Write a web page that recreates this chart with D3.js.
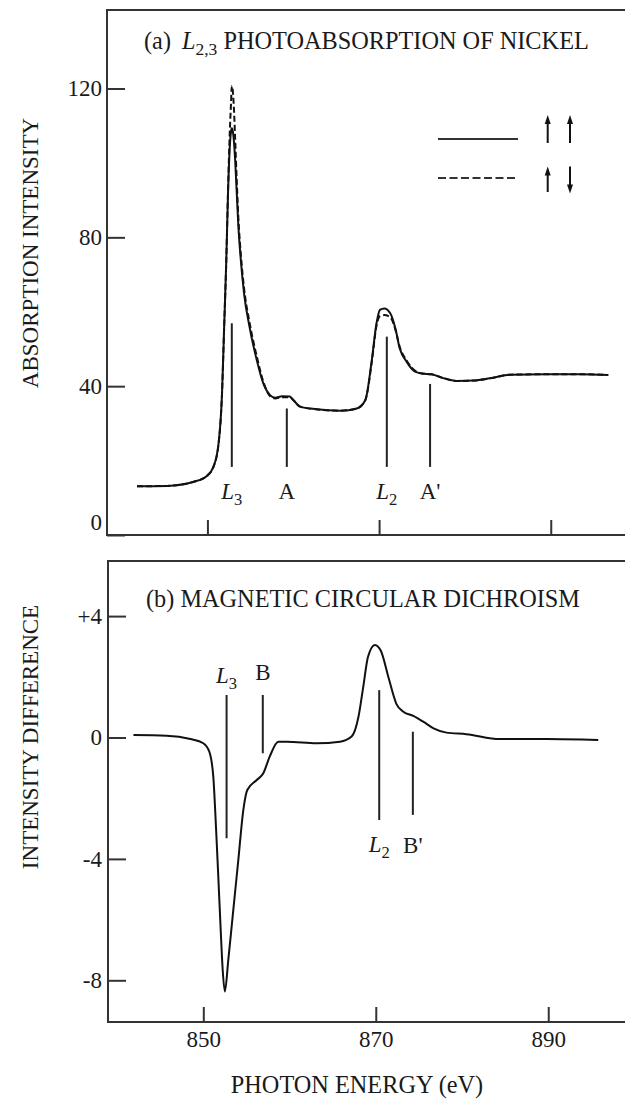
<!DOCTYPE html>
<html>
<head>
<meta charset="utf-8">
<script src="https://cdn.jsdelivr.net/npm/d3@7"></script>
<style>
  body { margin: 0; background: #fff; }
  svg text { font-family: "Liberation Serif", "Times New Roman", serif; fill: #1a1a1a; }
</style>
</head>
<body>
<svg id="chart" width="625" height="1101"></svg>
<script>
// (a) L2,3 photoabsorption of nickel - photon energy (eV) and intensity
const absEnergy = [841.8, 845.3, 848.4, 849.9, 850.7, 851.3, 851.7, 851.95, 852.2, 852.4,
  852.6, 852.75, 852.84, 852.95, 853.1, 853.23, 853.42, 853.61, 853.89, 854.27,
  854.9, 855.75, 856.5, 857.3, 857.9, 858.7, 859.6, 860.0, 860.8, 862.7,
  865.5, 867.4, 868.4, 869.15, 869.7, 870.1, 870.6, 871.3, 871.9, 872.4,
  873.2, 874.2, 875.0, 876.1, 877.3, 879.05, 881.0, 882.9, 885.3, 889.5,
  893.4, 896.7];
// parallel spins (solid line)
const absParallel = [13.1, 13.2, 14.3, 15.8, 18.3, 24.6, 38, 56, 73.9, 91.8,
  104, 108.5, 109.3, 108.6, 105.5, 100.8, 91.8, 82.8, 73.9, 64.9,
  56, 47, 40.8, 37.6, 36.9, 37.3, 37.2, 36.3, 34.5, 33.8,
  33.4, 34.0, 36.3, 47, 56.9, 60.5, 60.9, 59.6, 55.5, 50.2,
  46.6, 43.9, 43.4, 43.2, 42.3, 41.4, 41.5, 42.1, 43.1, 43.2,
  43.2, 43.0];
// antiparallel spins (dashed line)
const absAntiparallel = [13.1, 13.2, 14.3, 15.8, 18.3, 24.6, 38, 56, 73.9, 92.5,
  108, 116, 120.7, 119.5, 114, 106.5, 95, 85, 75.5, 66.3,
  57.2, 48, 41.3, 37.3, 36.7, 37.0, 37.0, 36.3, 34.5, 33.8,
  33.4, 34.0, 36.3, 46.5, 56.3, 58.8, 59.1, 58.5, 55.2, 50.6,
  46.9, 44.1, 43.4, 43.2, 42.3, 41.4, 41.5, 42.1, 43.1, 43.2,
  43.2, 43.0];

// (b) magnetic circular dichroism
const mcdEnergy = [841.9, 845.75, 848.5, 850.0, 850.7, 851.16, 851.47, 851.74, 852.0, 852.25,
  852.5, 852.9, 853.48, 854.06, 854.64, 855.1, 856.2, 856.96, 857.7, 858.7,
  859.7, 863.15, 865.85, 867.2, 868.0, 868.55, 869.1, 869.9, 870.6, 871.5,
  872.4, 873.2, 874.35, 875.5, 876.7, 878.2, 880.5, 884.4, 889.8, 895.8];
const mcdValue = [0.08, 0.06, -0.05, -0.19, -0.47, -1.29, -2.94, -4.59, -6.23, -7.66,
  -8.37, -7.33, -5.68, -4.04, -2.39, -1.73, -1.40, -1.18, -0.63, -0.14,
  -0.14, -0.19, -0.14, 0.03, 0.69, 1.67, 2.66, 3.05, 2.85, 1.95,
  1.1, 0.85, 0.71, 0.52, 0.30, 0.16, 0.11, -0.05, -0.05, -0.08];

const energyTicks = [850, 870, 890];
const absTicks = [0, 40, 80, 120];
const mcdTicks = [4, 0, -4, -8];
const mcdTickLabels = ["+4", "0", "-4", "-8"];

// feature markers: energy, line from..to (data units), label baseline value
const absMarkers = [
  {main: "L", sub: "3", e: 852.84, from: 18.3, to: 56.9, at: 9.6},
  {main: "A", sub: "", e: 859.25, from: 18.3, to: 34, at: 9.6},
  {main: "L", sub: "2", e: 870.9, from: 18.3, to: 53.3, at: 9.6},
  {main: "A'", sub: "", e: 875.94, from: 18.3, to: 40.6, at: 9.6}
];
const mcdMarkers = [
  {main: "L", sub: "3", e: 852.7, from: -3.32, to: 1.40, at: 1.80},
  {main: "B", sub: "", e: 856.9, from: -0.52, to: 1.40, at: 1.89},
  {main: "L", sub: "2", e: 870.4, from: -2.72, to: 1.56, at: -3.76},
  {main: "B'", sub: "", e: 874.3, from: -2.55, to: 0.19, at: -3.81}
];

const FS = 23;      // ticks, marker labels, y titles
const FS_T = 24.3;  // panel titles, x title
const INK = "#222";
const svg = d3.select("#chart");

// scales
const xA = d3.scaleLinear().domain([838.3, 898.65]).range([107, 625]);
const yA = d3.scaleLinear().domain([0, 141.1]).range([535, 10]);
const xB = d3.scaleLinear().domain([838.95, 898.9]).range([108, 625]);
const yB = d3.scaleLinear().domain([-9.374, 5.815]).range([1022, 561]);

function drawFrame(x, y) {
    const [x0, x1] = x.range();
    const [yb, yt] = y.range();
    svg.append("path")
        .attr("d", `M${x1},${yt}H${x0}V${yb}H${x1}`)
        .attr("fill", "none")
        .attr("stroke", "#333")
        .attr("stroke-width", 2);
}

function styleAxis(g) {
    g.attr("font-family", null).attr("font-size", FS);
    g.select(".domain").remove();
    g.selectAll(".tick line").attr("stroke", "#333").attr("stroke-width", 2);
    g.selectAll(".tick text").attr("fill", "#1a1a1a");
}

function addLabel(x, y, main, sub) {
    const t = svg.append("text")
        .attr("x", x).attr("y", y)
        .attr("font-size", FS)
        .attr("text-anchor", "middle");
    t.append("tspan").attr("font-style", main === "L" ? "italic" : null).text(main);
    if (sub) {
        t.append("tspan").attr("font-size", FS * 0.72).attr("dy", 6).text(sub);
    }
    return t;
}

// ---------- panel (a) ----------
drawFrame(xA, yA);

svg.append("g")
    .attr("transform", `translate(0,${yA.range()[0]})`)
    .call(d3.axisBottom(xA).tickValues(energyTicks).tickSize(-15).tickSizeOuter(0).tickFormat(""))
    .call(styleAxis);

svg.append("g")
    .attr("transform", `translate(${xA.range()[0]},0)`)
    .call(d3.axisLeft(yA).tickValues(absTicks).tickSize(-18).tickSizeOuter(0).tickPadding(5))
    .call(styleAxis)
    .call(g => g.selectAll(".tick").filter(d => d === 0).select("text").attr("y", -13));

const lineA = (vals) => d3.line()
    .x((d, i) => xA(absEnergy[i]))
    .y(d => yA(d))
    .curve(d3.curveMonotoneX)(vals);

svg.append("path")
    .attr("d", lineA(absAntiparallel))
    .attr("fill", "none")
    .attr("stroke", "#111")
    .attr("stroke-width", 2)
    .attr("stroke-dasharray", "6,3");

svg.append("path")
    .attr("d", lineA(absParallel))
    .attr("fill", "none")
    .attr("stroke", "#111")
    .attr("stroke-width", 2);

svg.append("g").selectAll("line")
    .data(absMarkers)
    .join("line")
    .attr("x1", d => xA(d.e)).attr("x2", d => xA(d.e))
    .attr("y1", d => yA(d.from)).attr("y2", d => yA(d.to))
    .attr("stroke", INK).attr("stroke-width", 2);

absMarkers.forEach(m => addLabel(xA(m.e), yA(m.at), m.main, m.sub));

// title (a)
const titleA = svg.append("text").attr("x", 144).attr("y", 49).attr("font-size", FS_T);
titleA.append("tspan").text("(a)");
titleA.append("tspan").attr("dx", 11).attr("font-style", "italic").text("L");
titleA.append("tspan").attr("font-size", FS_T * 0.72).attr("dy", 6).text("2,3");
titleA.append("tspan").attr("dy", -6).text(" PHOTOABSORPTION OF NICKEL");

// legend
const legend = svg.append("g");
legend.append("line").attr("x1", 438).attr("x2", 518).attr("y1", 139).attr("y2", 139)
    .attr("stroke", "#333").attr("stroke-width", 2);
legend.append("line").attr("x1", 438).attr("x2", 518).attr("y1", 178).attr("y2", 178)
    .attr("stroke", "#333").attr("stroke-width", 2).attr("stroke-dasharray", "8,3.5");

function arrow(x, yTail, yHead) {
    const dir = yHead < yTail ? 1 : -1;
    legend.append("line").attr("x1", x).attr("x2", x)
        .attr("y1", yTail).attr("y2", yHead + dir * 6)
        .attr("stroke", "#111").attr("stroke-width", 2);
    legend.append("path")
        .attr("d", `M${x},${yHead}L${x - 3},${yHead + dir * 9}L${x + 3},${yHead + dir * 9}Z`)
        .attr("fill", "#111");
}
arrow(547.7, 143, 115);
arrow(570, 143, 115);
arrow(547.7, 192, 166.5);
arrow(570, 166.5, 193.5);

svg.append("text")
    .attr("transform", "translate(37.5,253) rotate(-90)")
    .attr("text-anchor", "middle")
    .attr("font-size", FS)
    .text("ABSORPTION INTENSITY");

// ---------- panel (b) ----------
drawFrame(xB, yB);

svg.append("g")
    .attr("transform", `translate(0,${yB.range()[0]})`)
    .call(d3.axisBottom(xB).tickValues(energyTicks).tickSize(-15).tickSizeOuter(0).tickPadding(9))
    .call(styleAxis);

svg.append("g")
    .attr("transform", `translate(${xB.range()[0]},0)`)
    .call(d3.axisLeft(yB).tickValues(mcdTicks).tickSize(-18).tickSizeOuter(0).tickPadding(6)
        .tickFormat((d, i) => mcdTickLabels[i]))
    .call(styleAxis);

const lineB = d3.line()
    .x((d, i) => xB(mcdEnergy[i]))
    .y(d => yB(d))
    .curve(d3.curveMonotoneX);

svg.append("path")
    .attr("d", lineB(mcdValue))
    .attr("fill", "none")
    .attr("stroke", "#111")
    .attr("stroke-width", 2);

svg.append("g").selectAll("line")
    .data(mcdMarkers)
    .join("line")
    .attr("x1", d => xB(d.e)).attr("x2", d => xB(d.e))
    .attr("y1", d => yB(d.from)).attr("y2", d => yB(d.to))
    .attr("stroke", INK).attr("stroke-width", 2);

mcdMarkers.forEach(m => addLabel(xB(m.e), yB(m.at), m.main, m.sub));

svg.append("text").attr("x", 146).attr("y", 607).attr("font-size", FS_T)
    .text("(b) MAGNETIC CIRCULAR DICHROISM");

svg.append("text")
    .attr("transform", "translate(37.5,737) rotate(-90)")
    .attr("text-anchor", "middle")
    .attr("font-size", FS)
    .text("INTENSITY DIFFERENCE");

svg.append("text")
    .attr("x", 357).attr("y", 1093)
    .attr("text-anchor", "middle")
    .attr("font-size", FS_T)
    .text("PHOTON ENERGY (eV)");
</script>
</body>
</html>
